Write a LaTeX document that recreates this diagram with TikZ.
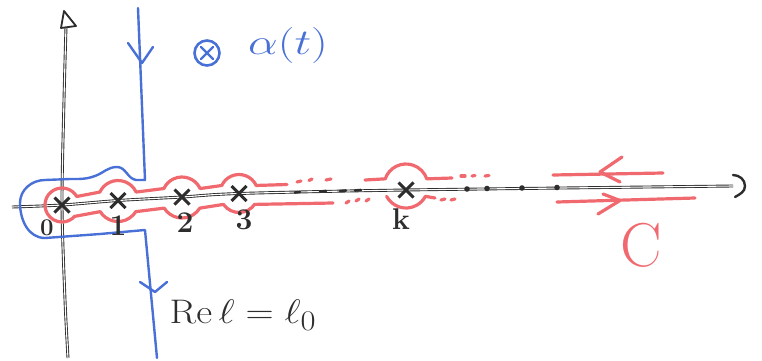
\documentclass[tikz,border=0pt]{standalone}
\usetikzlibrary{calc,shapes.misc}
\definecolor{redc}{RGB}{240,105,110}
\definecolor{bluec}{RGB}{72,112,214}
\definecolor{pencil}{RGB}{45,45,45}
\begin{document}
\begin{tikzpicture}[x=1pt,y=1pt,
  axisline/.style={draw=pencil, line width=0.9pt, double=white, double distance=1.1pt},
  contour/.style={draw=redc, line width=3.2pt, line join=round, line cap=round},
  bluepath/.style={draw=bluec, line width=2.4pt, line join=round, line cap=round},
  pole/.style={cross out, draw=pencil, line width=3pt, minimum size=12pt, inner sep=0pt},
  lab/.style={text=pencil, font=\fontsize{30}{30}\selectfont\bfseries, inner sep=0pt},
  tick/.style={draw=pencil, line width=2.6pt, line cap=round}]
\useasboundingbox (0,0) rectangle (762,360);
% poles
\coordinate (P0) at (62,155);
\coordinate (P1) at (118,159.5);
\coordinate (P2) at (182,163);
\coordinate (P3) at (239,166.5);
\coordinate (Pk) at (406,170);
\coordinate (Kc) at (406,174);
% axes
\draw[axisline] plot[smooth] coordinates {(68,2) (65,60) (62,155) (64,260) (66,333)};
\draw[pencil, line width=1.8pt, line join=round] (64,349) -- (61,332) -- (76,334) -- cycle;
\draw[axisline] plot[smooth] coordinates {(12,153) (62,155) (118,159.5) (182,163) (239,166.5) (406,170) (733,174)};
\draw[pencil, line width=2.4pt, line cap=round] (733,185) to[out=0,in=90] (745,174) to[out=270,in=30] (735,163);
% dashes and dots on axis
\draw[tick] (295,167.5) -- (300,168);
\draw[tick] (320,168.5) -- (326,169);
\draw[tick] (340,169) -- (346,169.5);
\draw[tick] (355,169.5) -- (361,170);
\foreach \xx/\yy in {467/171,487/171.5,522/172,557/172.5}
  \fill[pencil] (\xx,\yy) circle (2.8);
% red contour
\draw[contour] (287,175.5) -- ($(P3)+(25:19)$) arc[start angle=25,end angle=155,radius=19]
  -- ($(P2)+(25:20)$) arc[start angle=25,end angle=155,radius=20]
  -- ($(P1)+(25:20)$) arc[start angle=25,end angle=155,radius=20]
  -- ($(P0)+(30:17)$) arc[start angle=30,end angle=318,radius=17]
  -- ($(P1)+(212:21)$) arc[start angle=212,end angle=328,radius=21]
  -- ($(P2)+(212:21)$) arc[start angle=212,end angle=328,radius=21]
  -- ($(P3)+(215:19)$) arc[start angle=215,end angle=325,radius=19]
  -- (333,157);
\draw[contour] (297,178) -- (301,179);
\draw[contour] (309,179.5) -- (312,181);
\draw[contour] (326,180) -- (331,181);
\draw[contour] (346,157) -- (349,159);
\draw[contour] (356,159) -- (359,161);
\draw[contour] (366,159) -- (369,161);
\draw[contour] (365,180) -- ($(Kc)+(161:22)$) arc[start angle=161,end angle=19,radius=22] -- (452,182);
\draw[contour] ($(Kc)+(208:22)$) arc[start angle=208,end angle=332,radius=22] -- (435,162);
\draw[contour] (461,184) -- (465,184);
\draw[contour] (472,184) -- (475,184.5);
\draw[contour] (485,184) -- (489,184.5);
\draw[contour] (441,160) -- (445,161);
\draw[contour] (451,160) -- (455,161);
% right arrows
\draw[contour] (553,185) -- (663,187);
\draw[contour] (622,203) -- (600,188) -- (620,178);
\draw[contour] (557,158) -- (695,162);
\draw[contour] (603,166) -- (620,159.5) -- (598,146);
\node[text=redc, font=\fontsize{62}{62}\selectfont, inner sep=0pt] (C) at (641,115) {C};
% blue line Re l = l0
\draw[bluepath] (138,352) -- (145,180) -- (136,180) to[out=170,in=0] (117,193)
  to[out=180,in=20] (95,184) to[out=200,in=0] (70,181) -- (45,180)
  to[out=180,in=90] (20,157) to[out=270,in=180] (45,122) -- (100,126) -- (145,130) -- (157,2);
\draw[bluepath] (128,317) -- (142,297) -- (153,313);
\draw[bluepath] (140,78) -- (155,68) -- (167,78);
\node[circle, draw=bluec, line width=2.6pt, minimum size=25pt, inner sep=0pt] (ad) at (207,307) {};
\draw[bluepath] ($(ad)+(-6,-6)$) -- ($(ad)+(6,6)$);
\draw[bluepath] ($(ad)+(-6,6)$) -- ($(ad)+(6,-6)$);
\node[text=bluec, font=\Huge, xscale=1.9, yscale=1.45, inner sep=0pt] (alpha) at (288,315) {$\alpha(t)$};
% pole crosses and labels
\foreach \p in {P0,P1,P2,P3,Pk} \node[pole] at (\p) {};
\node[lab, font=\fontsize{24}{24}\selectfont\bfseries] (l0) at (47,132) {0};
\node[lab] (l1) at (118,134) {1};
\node[lab] (l2) at (185,137) {2};
\node[lab] (l3) at (244,140) {3};
\node[lab] (lk) at (401,141) {k};
\node[text=pencil, font=\Huge, xscale=1.57, yscale=1.37, inner sep=0pt] (rel) at (243,45) {$\mathrm{Re}\,\ell=\ell_0$};
\end{tikzpicture}
\end{document}
